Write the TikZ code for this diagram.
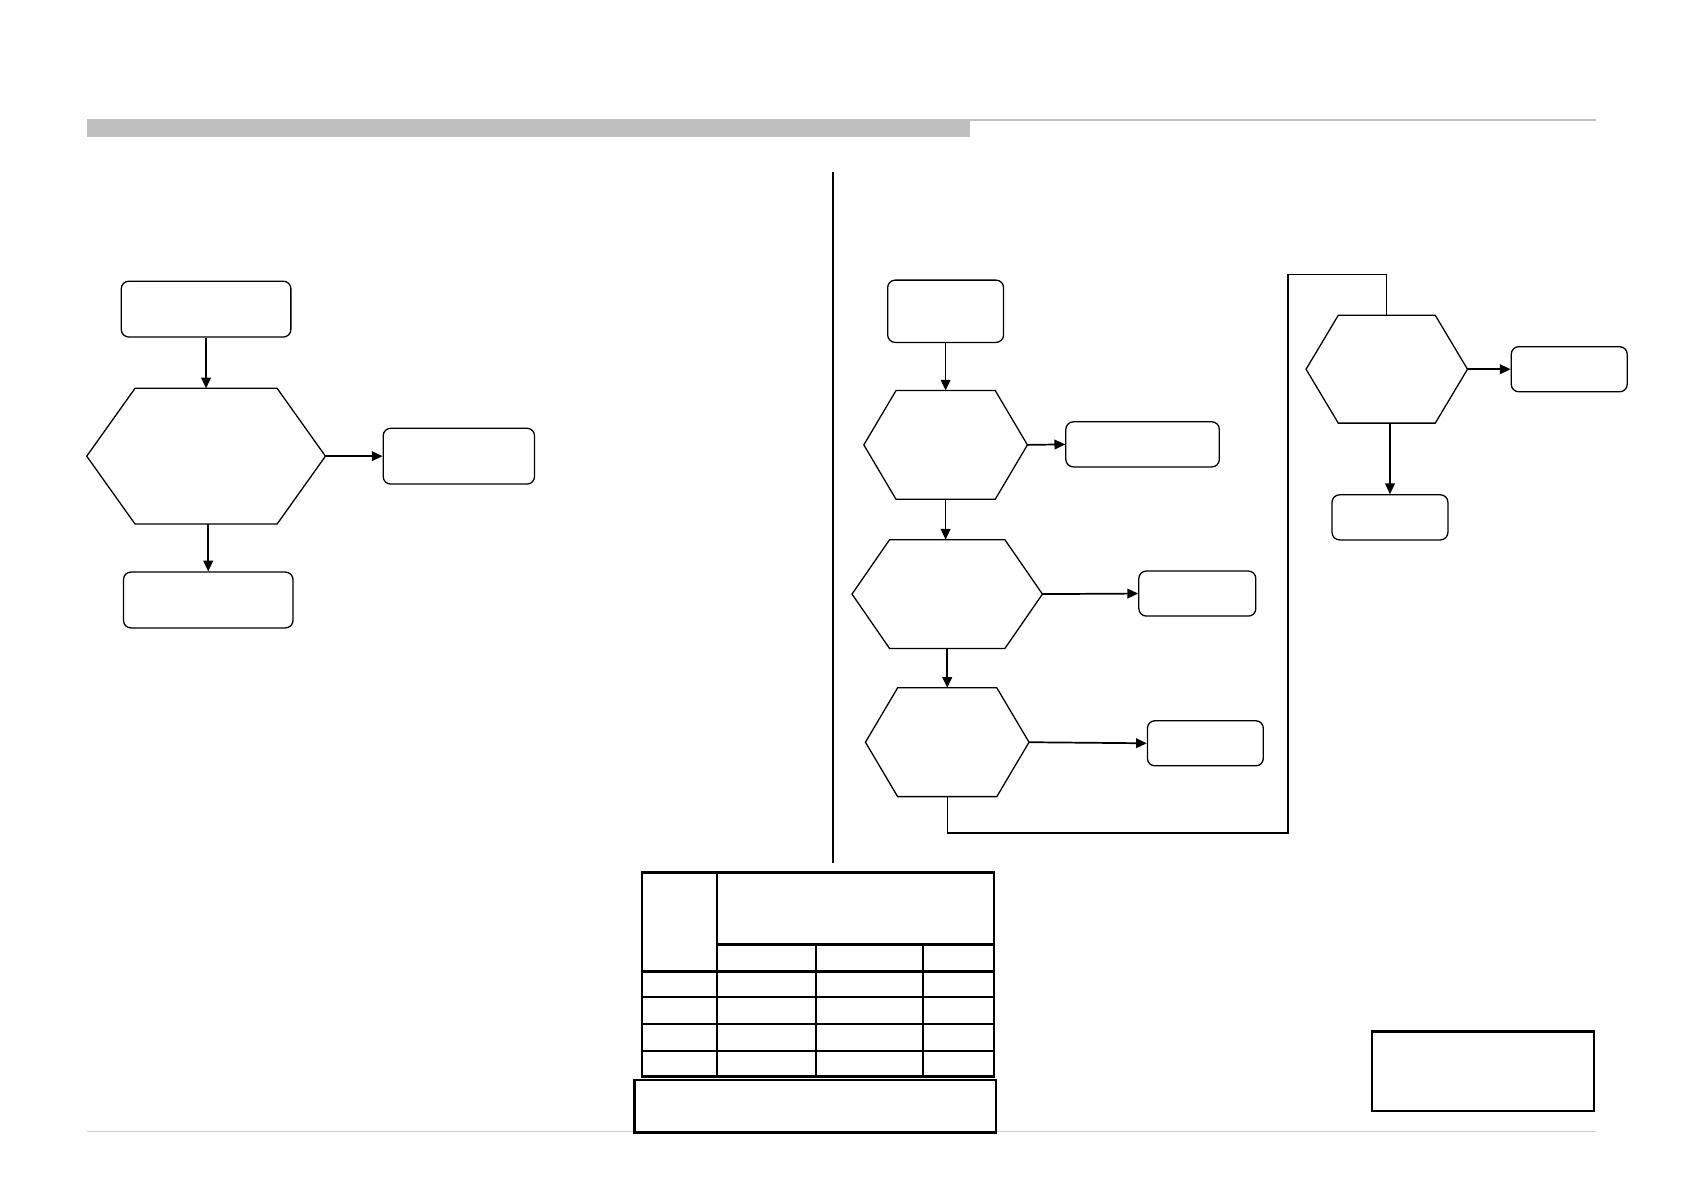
\documentclass[tikz,border=0pt]{standalone}
\usetikzlibrary{arrows.meta,calc}
\tikzset{
  shapeline/.style={draw=black, line width=1.2pt},
  rbox/.style={shapeline, rounded corners=7pt, inner sep=0pt, fill=white},
  hexframe/.style={inner sep=0pt, draw=none},
  conn/.style={line width=1.6pt, -{Triangle[length=10pt,width=9pt]}},
  plainconn/.style={line width=1.3pt},
  tabline/.style={draw=black, line width=2.2pt},
}
\newcommand{\hexshape}[6]{%
  \node[hexframe, minimum width=#4pt, minimum height=#5pt] (#1) at (#2,#3) {};
  \draw[shapeline, line join=miter] (#1.west) -- ([xshift=#6pt]#1.north west) -- ([xshift=-#6pt]#1.north east)
     -- (#1.east) -- ([xshift=-#6pt]#1.south east) -- ([xshift=#6pt]#1.south west) -- cycle;
}
\begin{document}
\begin{tikzpicture}[x=1pt,y=-1pt]
\useasboundingbox (0,0) rectangle (1568,1110);
% header
\fill[gray!50] (81,111) rectangle (904,128);
\draw[gray!50, line width=2pt] (904,112) -- (1487,112);
% footer line
\draw[black!18, line width=1.5pt] (81,1054) -- (1487,1054);
% divider
\draw[line width=1.4pt] (776,160) -- (776,804);

% ---------- left flowchart ----------
\node[rbox, minimum width=158pt, minimum height=52pt] (L1) at (192,288) {};
\hexshape{LH}{192}{425}{222}{126}{45}
\node[rbox, minimum width=141pt, minimum height=52pt] (L2) at (427.5,425) {};
\node[rbox, minimum width=158pt, minimum height=52pt] (L3) at (194,559) {};
\draw[conn] (L1.south) -- (L1.south |- LH.north);
\draw[conn] (LH.east) -- (L2.west);
\draw[conn] (L3.north |- LH.south) -- (L3.north);

% ---------- right flowchart ----------
\node[rbox, minimum width=108pt, minimum height=58pt] (R1) at (881,290) {};
\hexshape{H1}{881}{414.5}{152}{101}{30}
\node[rbox, minimum width=143pt, minimum height=42pt] (R2) at (1064.5,414) {};
\hexshape{H2}{882.5}{553.5}{177}{101}{35}
\node[rbox, minimum width=109pt, minimum height=42pt] (R3) at (1115.5,553) {};
\hexshape{H3}{882.5}{691.5}{152}{101}{30}
\node[rbox, minimum width=108pt, minimum height=42pt] (R4) at (1123,692.5) {};
\hexshape{H4}{1292}{344}{150}{100}{30}
\node[rbox, minimum width=108pt, minimum height=42pt] (R5) at (1462,344) {};
\node[rbox, minimum width=108pt, minimum height=42pt] (R6) at (1295,482) {};

\draw[conn] (R1.south) -- (R1.south |- H1.north);
\draw[conn] (H1.east) -- (R2.west);
\draw[conn] (H1.south) -- (H1.south |- H2.north);
\draw[conn] (H2.east) -- (R3.west);
\draw[conn] (H2.south) -- (H2.south |- H3.north);
\draw[conn] (H3.east) -- (R4.west);
\draw[conn] (H4.east) -- (R5.west);
\draw[conn] (R6.north |- H4.south) -- (R6.north);
\coordinate (loopA) at (1200,776);
\coordinate (loopB) at (1200,256);
\draw[plainconn] (H3.south) |- (loopA) -- (loopB) -| (H4.north);

% ---------- table ----------
\draw[tabline] (598,813) rectangle (926,1003);
\draw[tabline] (668,813) -- (668,1003);
\draw[tabline] (668,880) -- (926,880);
\draw[tabline] (760,880) -- (760,1003);
\draw[tabline] (860,880) -- (860,1003);
\foreach \yy in {905,929,954,979} \draw[tabline] (598,\yy) -- (926,\yy);
\draw[tabline] (591,1006) rectangle (928,1055);

% ---------- bottom-right box ----------
\draw[tabline] (1278,961) rectangle (1485,1035);
\end{tikzpicture}
\end{document}
